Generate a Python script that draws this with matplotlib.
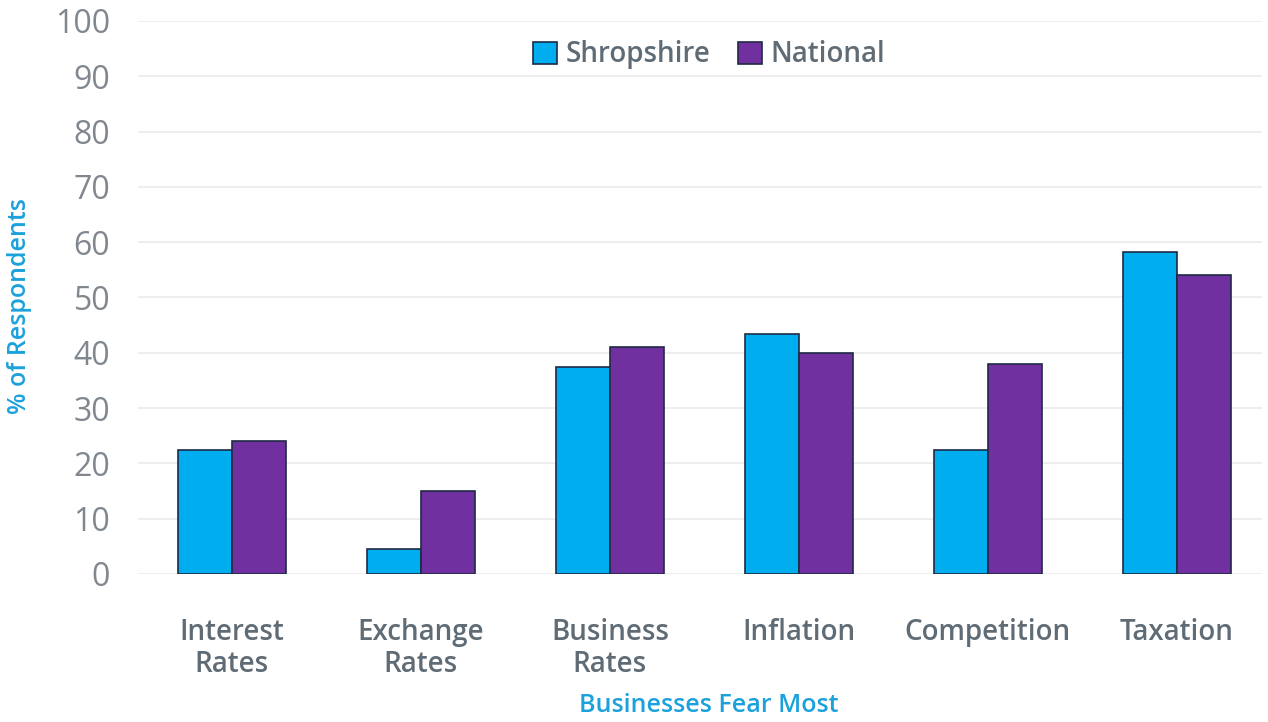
import matplotlib
matplotlib.use("Agg")
import matplotlib.pyplot as plt
import numpy as np

categories = ["Interest\nRates", "Exchange\nRates", "Business\nRates", "Inflation", "Competition", "Taxation"]
shropshire = [22.4, 4.5, 37.4, 43.4, 22.4, 58.2]
national = [24.0, 15.0, 41.0, 40.0, 38.0, 54.0]
y_ticks = list(range(0, 101, 10))

plt.rcParams["font.family"] = ["Open Sans", "DejaVu Sans"]

CYAN = "#00AEEF"
PURPLE = "#7030A0"
EDGE = "#1F2A44"
TICK_GREY = "#80878F"
LABEL_GREY = "#5F6B75"
AXIS_BLUE = "#1BA1DB"

fig = plt.figure(figsize=(12.68, 7.22), dpi=100)
ax = fig.add_axes([138 / 1268, 0.205, 1124 / 1268, 0.766])

x = np.arange(len(categories))
w = 0.286
ax.bar(x - w / 2, shropshire, width=w, color=CYAN, edgecolor=EDGE, linewidth=1.2, label="Shropshire", zorder=3)
ax.bar(x + w / 2, national, width=w, color=PURPLE, edgecolor=EDGE, linewidth=1.2, label="National", zorder=3)

ax.set_xlim(-0.497, -0.497 + 1124 / 189)
ax.set_ylim(0, 100)
ax.set_yticks(y_ticks)
ax.set_yticklabels([str(t) for t in y_ticks], fontsize=23, color=TICK_GREY)
ax.set_xticks(x)
ax.set_xticklabels(categories, fontsize=20, fontweight="semibold", color=LABEL_GREY, linespacing=1.1)
ax.tick_params(axis="both", length=0)
ax.tick_params(axis="x", pad=32)
ax.tick_params(axis="y", pad=20)
ax.grid(True, axis="y", color="#EBEBEB", linewidth=1.2, zorder=0)
ax.set_axisbelow(True)
for s in ax.spines.values():
    s.set_visible(False)

fig.text(709 / 1268, 1 - 706 / 722, "Businesses Fear Most", fontsize=18, fontweight="semibold",
         color=AXIS_BLUE, ha="center", va="center")
fig.text(20 / 1268, 1 - 306 / 722, "% of Respondents", fontsize=18, fontweight="semibold",
         color=AXIS_BLUE, ha="center", va="center", rotation=90)

leg = ax.legend(loc="upper center", bbox_to_anchor=(0.508, 1.01), ncol=2, frameon=False,
                handlelength=0.85, handleheight=0.85, handletextpad=0.3, columnspacing=1.0,
                prop={"size": 20, "weight": "semibold"})
for t in leg.get_texts():
    t.set_color(LABEL_GREY)

fig.savefig("out.png", dpi=100)
